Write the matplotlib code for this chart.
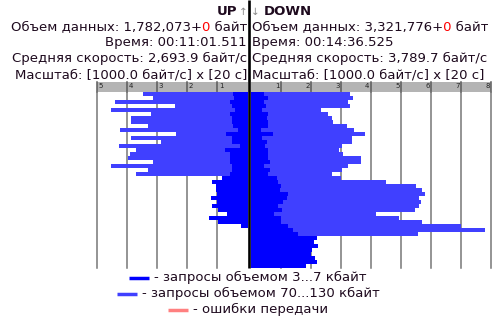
import numpy as np
import matplotlib
matplotlib.use('Agg')
import matplotlib.pyplot as plt
from matplotlib.transforms import Bbox

# --- data (units of 1000 bytes/s, one row per 20 s) ---
up_small = [0.47, 0.45, 0.58, 0.52, 0.41, 0.58, 0.52, 0.50, 0.47, 0.30,
            0.71, 0.52, 0.52, 0.24, 0.74, 0.58, 0.58, 0.58, 0.52, 0.52,
            0.58, 0.85, 1.17, 1.06, 1.04, 1.02, 1.21, 1.02, 1.17, 0.99,
            0.68, 1.28, 0.99, 0.21]
up_total = [3.47, 3.13, 4.41, 2.41, 4.54, 3.21, 3.88, 3.86, 3.30, 4.24,
            2.38, 3.86, 2.88, 4.28, 3.72, 3.91, 3.97, 3.13, 4.54, 3.30,
            3.71, 0, 0, 0, 0, 0, 0, 0, 0, 0,
            0, 0, 0, 0]
down_small = [0.44, 0.56, 0.44, 0.50, 0.37, 0.58, 0.52, 0.55, 0.57, 0.34,
              0.74, 0.37, 0.53, 0.48, 0.57, 0.56, 0.55, 0.63, 0.44, 0.62,
              0.58, 0.88, 0.89, 1.00, 0.98, 1.22, 1.20, 1.08, 0.89, 1.02,
              0.78, 1.01, 1.01, 1.22, 1.39, 1.56, 2.21, 2.11, 2.24, 2.04,
              2.01, 2.14, 2.21, 1.84]
down_total = [3.31, 3.41, 3.24, 3.31, 2.34, 2.58, 2.70, 2.74, 3.20, 3.44,
              3.81, 3.38, 3.38, 3.04, 2.94, 3.08, 3.68, 3.68, 3.24, 3.04,
              2.71, 3.00, 4.51, 5.51, 5.71, 5.81, 5.61, 5.68, 5.61, 5.48,
              4.18, 4.94, 5.71, 7.01, 7.81, 5.58, 0, 0, 0, 0,
              0, 0, 0, 0]

up_lines = ["Время: 00:11:01.511",
            "Средняя скорость: 2,693.9 байт/с",
            "Масштаб: [1000.0 байт/с] x [20 с]"]
down_lines = ["Время: 00:14:36.525",
              "Средняя скорость: 3,789.7 байт/с",
              "Масштаб: [1000.0 байт/с] x [20 с]"]
up_volume = "1,782,073"
down_volume = "3,321,776"
legend_labels = ["- запросы объемом 3...7 кбайт",
                 "- запросы объемом 70...130 кбайт",
                 "- ошибки передачи"]

FS = 9.5
TXT = '#1e0a1e'
DARK = '#0000ff'
LIGHT = '#4040ff'
ERR = '#ff8080'
GRID = '#767676'
BAND = '#b4b4b4'
W, H = 504, 320

fig = plt.figure(figsize=(W / 100, H / 100), dpi=100)
bg = fig.add_axes([0, 0, 1, 1])
bg.set_xlim(0, W)
bg.set_ylim(H, 0)
bg.axis('off')


def px_axes(x0, y0, x1, y1):
    return fig.add_axes([x0 / W, 1 - y1 / H, (x1 - x0) / W, (y1 - y0) / H])


def panel(x0, x1, xmax, flip, small, total):
    band = px_axes(x0, 81.7, x1, 91.7)
    ax = px_axes(x0, 91.7, x1, 268)
    for a in (band, ax):
        a.set_xlim((xmax, 0) if flip else (0, xmax))
        a.set_xticks([])
        a.set_yticks([])
        a.patch.set_alpha(0)
        for s in a.spines.values():
            s.set_visible(False)
    band.patch.set_alpha(1)
    band.set_facecolor(BAND)
    band.set_ylim(0, 1)
    ax.set_ylim(44, 0)

    rows = np.arange(len(small))
    ax.barh(rows, total, height=1, align='edge', color=LIGHT, lw=0, zorder=2)
    ax.barh(rows, small, height=1, align='edge', color=DARK, lw=0, zorder=3)

    for v in range(1, xmax + 1):
        ax.axvline(v, color=GRID, lw=1.1, zorder=1, clip_on=False)
        band.axvline(v, color='#5a5a5a', lw=1.1, clip_on=False)
        band.text(v - 0.05, 0.9, str(v), ha='left' if flip else 'right',
                  va='top', fontsize=5, color='#222222')


panel(97, 247.5, 5, True, up_small, up_total)
panel(251, 491, 8, False, down_small, down_total)

# center separator
bg.plot([248.7, 248.7], [0, 268], color='black', lw=1.9, solid_capstyle='butt')

renderer = fig.canvas.get_renderer()


def clipped(t, x0, x1):
    t.set_clip_path(None)
    t.set_clip_on(True)
    t.set_clip_box(Bbox.from_extents(x0, 0, x1, H))


def mixed(x, y, prefix, red, suffix, ha):
    # one string, three copies clipped so only the red part changes colour
    full = prefix + red + suffix
    kw = dict(ha=ha, va='baseline', fontsize=FS)
    t1 = bg.text(x, y, full, color=TXT, **kw)
    xs = t1.get_window_extent(renderer).x0
    tmp = bg.text(xs, y, prefix, ha='left', va='baseline', fontsize=FS)
    xa = tmp.get_window_extent(renderer).x1 + 0.6
    tmp.set_text(prefix + red)
    xb = tmp.get_window_extent(renderer).x1 + 0.6
    tmp.remove()
    t2 = bg.text(x, y, full, color=TXT, **kw)
    t3 = bg.text(x, y, full, color='red', **kw)
    clipped(t1, 0, xa)
    clipped(t3, xa, xb)
    clipped(t2, xb, W)


# headers
bg.text(237, 15, "UP", ha='right', va='baseline', fontsize=FS,
        color=TXT, fontweight='bold')
bg.text(243, 15, "↑", ha='center', va='baseline', fontsize=7.5, color='#8a8a8a')
bg.text(255.5, 15, "↓", ha='center', va='baseline', fontsize=7.5, color='#8a8a8a')
bg.text(263.5, 15, "DOWN", ha='left', va='baseline', fontsize=FS,
        color=TXT, fontweight='bold')

mixed(247, 30, "Объем данных: " + up_volume + "+", "0", " байт", 'right')
mixed(252, 30, "Объем данных: " + down_volume + "+", "0", " байт", 'left')
for i, (lt, rt) in enumerate(zip(up_lines, down_lines)):
    yb = 46 + 16 * i
    bg.text(247, yb, lt, ha='right', va='baseline', fontsize=FS, color=TXT)
    bg.text(252, yb, rt, ha='left', va='baseline', fontsize=FS, color=TXT)

# legend, centered
for lab, col, yb in zip(legend_labels, [DARK, LIGHT, ERR], [281.5, 297.5, 313.5]):
    t = bg.text(0, yb, lab, va='baseline', ha='left', fontsize=FS, color=TXT)
    tw = t.get_window_extent(renderer).width
    x0 = 248 - (20 + 5 + tw) / 2
    bg.plot([x0, x0 + 20], [yb - 3.5, yb - 3.5], color=col, lw=2.5,
            solid_capstyle='butt')
    t.set_x(x0 + 25)

fig.savefig('out.png', dpi=100)
